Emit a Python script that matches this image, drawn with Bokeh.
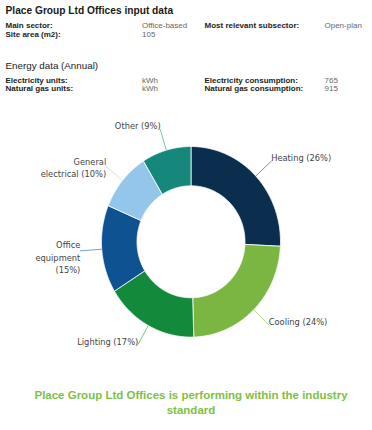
import numpy as np
from bokeh.plotting import figure
from bokeh.models import Range1d, ColumnDataSource
from bokeh.core.properties import value
from bokeh.embed import file_html
from bokeh.resources import INLINE

# ---------------- data ----------------
title = "Place Group Ltd Offices input data"
info_left_labels = ["Main sector:", "Site area (m2):"]
info_left_values = ["Office-based", "105"]
info_right_labels = ["Most relevant subsector:"]
info_right_values = ["Open-plan"]

energy_title = "Energy data (Annual)"
energy_left_labels = ["Electricity units:", "Natural gas units:"]
energy_left_values = ["kWh", "kWh"]
energy_right_labels = ["Electricity consumption:", "Natural gas consumption:"]
energy_right_values = ["765", "915"]

categories = ["Heating", "Cooling", "Lighting", "Office\nequipment", "General\nelectrical", "Other"]
label_sep = [" ", " ", " ", "\n", " ", " "]
shares = [26, 24, 17, 15, 10, 9]
colors = ["#0b2e4f", "#7bb642", "#13893b", "#0e5292", "#93c6ea", "#15887b"]

footer = "Place Group Ltd Offices is performing within the industry\nstandard"

# ---------------- figure ----------------
W, H = 372, 428
TOT = 430
def sy(y):
    return TOT - y

p = figure(width=W, height=H, x_range=Range1d(0, W), y_range=Range1d(TOT - H, TOT),
           output_backend="svg", toolbar_location=None, min_border=0)
p.axis.visible = False
p.grid.visible = False
p.outline_line_color = None
p.background_fill_color = "white"

SANS = value("Liberation Sans")
LX, VX, RX, RVX = 5, 141.5, 204, 324

# header
p.text(x=[LX], y=[sy(10)], text=[title], text_font=SANS, text_font_size="10.2px",
       text_font_style="bold", text_color="#1a1a1a", text_baseline="middle")

row_y = [sy(25), sy(34)]
p.text(x=[LX] * len(info_left_labels), y=row_y[:len(info_left_labels)], text=info_left_labels,
       text_font=SANS, text_font_size="8px", text_font_style="bold", text_color="#222",
       text_baseline="middle")
p.text(x=[VX] * len(info_left_values), y=row_y[:len(info_left_values)], text=info_left_values,
       text_font=SANS, text_font_size="8px", text_color="#666", text_baseline="middle")
p.text(x=[RX] * len(info_right_labels), y=row_y[:len(info_right_labels)], text=info_right_labels,
       text_font=SANS, text_font_size="8px", text_font_style="bold", text_color="#222",
       text_baseline="middle")
p.text(x=[RVX] * len(info_right_values), y=row_y[:len(info_right_values)], text=info_right_values,
       text_font=SANS, text_font_size="8px", text_color="#666", text_baseline="middle")

p.text(x=[LX], y=[sy(64.5)], text=[energy_title], text_font=SANS, text_font_size="9.8px",
       text_color="#222", text_baseline="middle")
erow_y = [sy(80), sy(88.3)]
p.text(x=[LX, LX], y=erow_y, text=energy_left_labels, text_font=SANS, text_font_size="8px",
       text_font_style="bold", text_color="#222", text_baseline="middle")
p.text(x=[VX, VX], y=erow_y, text=energy_left_values, text_font=SANS, text_font_size="8px",
       text_color="#666", text_baseline="middle")
p.text(x=[RX, RX], y=erow_y, text=energy_right_labels, text_font=SANS, text_font_size="8px",
       text_font_style="bold", text_color="#222", text_baseline="middle")
p.text(x=[RVX, RVX], y=erow_y, text=energy_right_values, text_font=SANS, text_font_size="8px",
       text_color="#666", text_baseline="middle")

# ---------------- donut ----------------
cx, cy = 190.5, sy(241.3)
rx_o, ry_o = 89.5, 95.3
rx_i, ry_i = 54.0, 56.0
lead = 22.0

vals = np.array(shares, dtype=float)
frac = vals / vals.sum()
cum = np.concatenate([[0.0], np.cumsum(frac)])
a_start = np.pi / 2 - 2 * np.pi * cum[:-1]
a_end = np.pi / 2 - 2 * np.pi * cum[1:]
a_mid = (a_start + a_end) / 2

xs, ys = [], []
for a0, a1 in zip(a_start, a_end):
    t = np.linspace(a0, a1, 90)
    ox = cx + rx_o * np.cos(t)
    oy = cy + ry_o * np.sin(t)
    ix = cx + rx_i * np.cos(t[::-1])
    iy = cy + ry_i * np.sin(t[::-1])
    xs.append(list(np.concatenate([ox, ix])))
    ys.append(list(np.concatenate([oy, iy])))

p.patches(xs=xs, ys=ys, fill_color=colors, line_color="white", line_width=0.8)

# leader lines
x0 = cx + rx_o * np.cos(a_mid)
y0 = cy + ry_o * np.sin(a_mid)
x1 = cx + (rx_o + lead) * np.cos(a_mid)
y1 = cy + (ry_o + lead) * np.sin(a_mid)
p.segment(x0=x0, y0=y0, x1=x1, y1=y1, line_color=colors, line_alpha=0.55, line_width=1)

labels = [f"{c}{sep}({s}%)" for c, sep, s in zip(categories, label_sep, shares)]
nlines = np.array([l.count("\n") + 1 for l in labels])
ty = y1 + 3 - 5 * (nlines - 1)
right = np.cos(a_mid) >= 0
LBL = value("DejaVu Sans")
src_r = ColumnDataSource(dict(x=x1[right] - 0.5, y=ty[right],
                              text=[l for l, r in zip(labels, right) if r]))
src_l = ColumnDataSource(dict(x=x1[~right] + 0.5, y=ty[~right],
                              text=[l for l, r in zip(labels, right) if not r]))
p.text(x="x", y="y", text="text", source=src_r, text_font=LBL, text_font_size="8.3px",
       text_color="#444", text_align="left", text_baseline="middle", text_line_height=1.25)
p.text(x="x", y="y", text="text", source=src_l, text_font=LBL, text_font_size="8.3px",
       text_color="#444", text_align="right", text_baseline="middle", text_line_height=1.25)

# footer
p.text(x=[190.5], y=[sy(402)], text=[footer], text_font=SANS, text_font_size="11.5px",
       text_font_style="bold", text_color="#7dc143", text_align="center",
       text_baseline="middle", text_line_height=1.2)

open("out.html", "w").write(file_html(p, INLINE))
